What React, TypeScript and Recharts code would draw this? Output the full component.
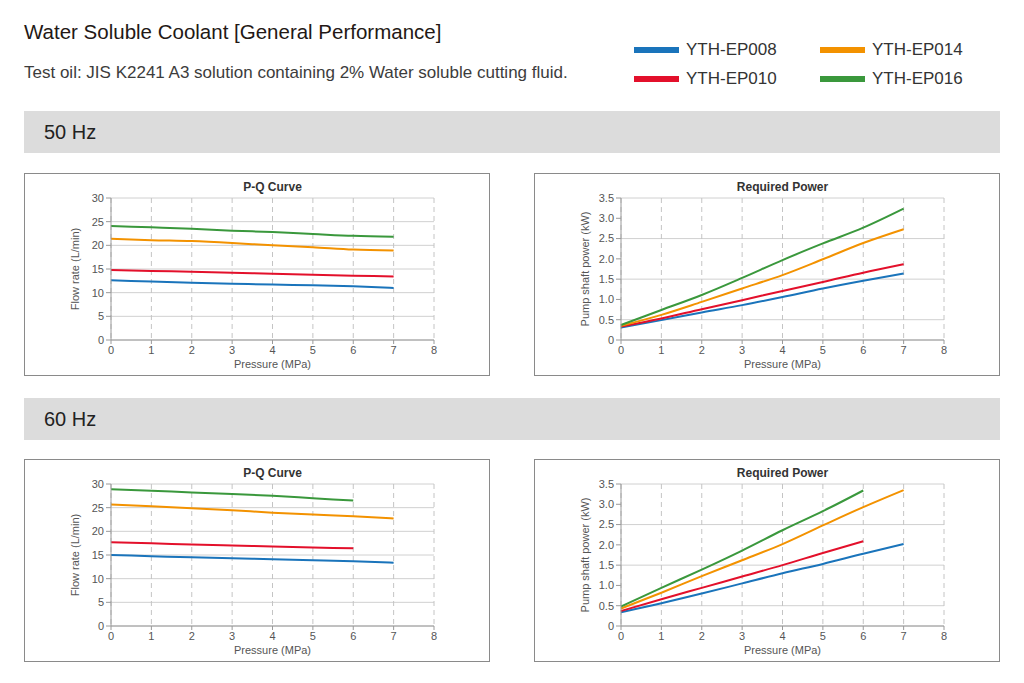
import { CartesianGrid, Line, LineChart, XAxis, YAxis } from "recharts";

const PRESSURE = [0, 1, 2, 3, 4, 5, 6, 7];
const PRESSURE_TICKS = [0, 1, 2, 3, 4, 5, 6, 7, 8];
const FLOW_TICKS = [0, 5, 10, 15, 20, 25, 30];
const POWER_TICKS = [0, 0.5, 1, 1.5, 2, 2.5, 3, 3.5];

const MODELS = ["YTH-EP008", "YTH-EP010", "YTH-EP014", "YTH-EP016"];
const COLORS = ["#1a74bb", "#e3102b", "#f39200", "#3a983c"];

// 50 Hz, flow rate (L/min)
const FLOW50_EP008 = [12.6, 12.35, 12.1, 11.9, 11.7, 11.55, 11.35, 11.0];
const FLOW50_EP010 = [14.8, 14.6, 14.4, 14.2, 14.0, 13.8, 13.6, 13.4];
const FLOW50_EP014 = [21.4, 21.1, 20.9, 20.5, 20.0, 19.6, 19.1, 18.9];
const FLOW50_EP016 = [24.1, 23.8, 23.5, 23.1, 22.8, 22.4, 22.0, 21.8];

// 50 Hz, shaft power (kW)
const POWER50_EP008 = [0.31, 0.49, 0.68, 0.86, 1.06, 1.27, 1.46, 1.64];
const POWER50_EP010 = [0.33, 0.53, 0.76, 0.98, 1.21, 1.43, 1.66, 1.87];
const POWER50_EP014 = [0.35, 0.62, 0.94, 1.27, 1.6, 1.99, 2.39, 2.73];
const POWER50_EP016 = [0.37, 0.74, 1.11, 1.53, 1.97, 2.38, 2.77, 3.24];

// 60 Hz, flow rate (L/min) — EP010 / EP016 stop at 6 MPa
const FLOW60_EP008 = [15.0, 14.75, 14.5, 14.3, 14.1, 13.9, 13.7, 13.35];
const FLOW60_EP010 = [17.7, 17.5, 17.2, 17.0, 16.8, 16.6, 16.4];
const FLOW60_EP014 = [25.65, 25.3, 24.9, 24.45, 23.95, 23.55, 23.2, 22.7];
const FLOW60_EP016 = [28.9, 28.6, 28.2, 27.9, 27.5, 27.0, 26.5];

// 60 Hz, shaft power (kW)
const POWER60_EP008 = [0.34, 0.56, 0.8, 1.05, 1.3, 1.53, 1.78, 2.02];
const POWER60_EP010 = [0.37, 0.66, 0.94, 1.22, 1.5, 1.8, 2.09];
const POWER60_EP014 = [0.43, 0.82, 1.23, 1.62, 2.02, 2.48, 2.93, 3.35];
const POWER60_EP016 = [0.48, 0.94, 1.39, 1.86, 2.36, 2.83, 3.34];

const KEYS = ["ep008", "ep010", "ep014", "ep016"];

function buildRows(series: number[][]) {
  return PRESSURE.map((p, i) => {
    const row: Record<string, number | null> = { p };
    KEYS.forEach((k, s) => {
      row[k] = series[s][i] ?? null;
    });
    return row;
  });
}

const FONT = '"Liberation Sans", Arial, Helvetica, sans-serif';
const AXIS_GREY = "#9a9a9a";
const TEXT_GREY = "#555";

type ChartProps = {
  left: number;
  top: number;
  title: string;
  yLabel: string;
  series: number[][];
  yTicks: number[];
  formatY: (v: number) => string;
};

function PerfChart({ left, top, title, yLabel, series, yTicks, formatY }: ChartProps) {
  const rows = buildRows(series);
  return (
    <div
      style={{
        position: "absolute",
        left,
        top,
        width: 466,
        height: 203,
        border: "1px solid #8a8a8a",
        boxSizing: "border-box",
        background: "#fff",
      }}
    >
      <div
        style={{
          position: "absolute",
          left: 86,
          width: 323,
          top: 6,
          textAlign: "center",
          fontWeight: "bold",
          fontSize: 12,
          lineHeight: "14px",
          color: "#333",
        }}
      >
        {title}
      </div>
      <LineChart
        width={464}
        height={201}
        data={rows}
        margin={{ top: 24, right: 55, left: 46, bottom: 7 }}
        style={{ fontFamily: FONT }}
      >
        <CartesianGrid horizontal vertical={false} stroke="#d0d0d0" />
        <CartesianGrid horizontal={false} vertical stroke="#c4c4c4" strokeDasharray="5 4" />
        <XAxis
          type="number"
          dataKey="p"
          domain={[0, 8]}
          ticks={PRESSURE_TICKS}
          tick={{ fontSize: 11, fill: TEXT_GREY }}
          tickLine={{ stroke: AXIS_GREY }}
          axisLine={{ stroke: AXIS_GREY }}
          tickSize={4}
          height={28}
          label={{ value: "Pressure (MPa)", position: "insideBottom", offset: 0, fontSize: 11, fill: TEXT_GREY }}
        />
        <YAxis
          type="number"
          domain={[yTicks[0], yTicks[yTicks.length - 1]]}
          ticks={yTicks}
          tickFormatter={formatY}
          tick={{ fontSize: 11, fill: TEXT_GREY }}
          tickLine={{ stroke: AXIS_GREY }}
          axisLine={{ stroke: AXIS_GREY }}
          tickSize={5}
          width={40}
          label={{
            value: yLabel,
            angle: -90,
            position: "insideLeft",
            offset: 4,
            fontSize: 11,
            fill: TEXT_GREY,
            style: { textAnchor: "middle" },
          }}
        />
        {KEYS.map((k, i) => (
          <Line
            key={k}
            type="monotone"
            dataKey={k}
            name={MODELS[i]}
            stroke={COLORS[i]}
            strokeWidth={2}
            dot={false}
            isAnimationActive={false}
          />
        ))}
      </LineChart>
    </div>
  );
}

function Band({ top, label }: { top: number; label: string }) {
  return (
    <div
      style={{
        position: "absolute",
        left: 24,
        top,
        width: 976,
        height: 42,
        background: "#dcdcdc",
        fontSize: 20,
        lineHeight: "42px",
        paddingLeft: 20,
        boxSizing: "border-box",
        color: "#222",
      }}
    >
      {label}
    </div>
  );
}

const formatFlow = (v: number) => String(v);
const formatPower = (v: number) => (v === 0 ? "0" : v.toFixed(1));

export default function App() {
  return (
    <div
      style={{
        position: "absolute",
        left: 0,
        top: 0,
        width: 1024,
        height: 683,
        background: "#fff",
        fontFamily: FONT,
        overflow: "hidden",
      }}
    >
      <div style={{ position: "absolute", left: 24, top: 21, fontSize: 20.5, lineHeight: "22px", color: "#231815" }}>
        Water Soluble Coolant [General Performance]
      </div>
      <div style={{ position: "absolute", left: 24, top: 63, fontSize: 17, lineHeight: "20px", color: "#3c3c3c" }}>
        Test oil: JIS K2241 A3 solution containing 2% Water soluble cutting fluid.
      </div>

      {MODELS.map((m, i) => (
        <div
          key={m}
          style={{
            position: "absolute",
            left: i < 2 ? 634 : 820,
            top: i % 2 === 0 ? 40 : 69,
            height: 20,
            display: "flex",
            alignItems: "center",
            fontSize: 17,
            color: "#333",
          }}
        >
          <span style={{ display: "inline-block", width: 45, height: 6, background: COLORS[i], marginRight: 7 }} />
          {m}
        </div>
      ))}

      <Band top={111} label="50 Hz" />
      <PerfChart
        left={24}
        top={173}
        title="P-Q Curve"
        yLabel="Flow rate (L/min)"
        series={[FLOW50_EP008, FLOW50_EP010, FLOW50_EP014, FLOW50_EP016]}
        yTicks={FLOW_TICKS}
        formatY={formatFlow}
      />
      <PerfChart
        left={534}
        top={173}
        title="Required Power"
        yLabel="Pump shaft power (kW)"
        series={[POWER50_EP008, POWER50_EP010, POWER50_EP014, POWER50_EP016]}
        yTicks={POWER_TICKS}
        formatY={formatPower}
      />

      <Band top={398} label="60 Hz" />
      <PerfChart
        left={24}
        top={459}
        title="P-Q Curve"
        yLabel="Flow rate (L/min)"
        series={[FLOW60_EP008, FLOW60_EP010, FLOW60_EP014, FLOW60_EP016]}
        yTicks={FLOW_TICKS}
        formatY={formatFlow}
      />
      <PerfChart
        left={534}
        top={459}
        title="Required Power"
        yLabel="Pump shaft power (kW)"
        series={[POWER60_EP008, POWER60_EP010, POWER60_EP014, POWER60_EP016]}
        yTicks={POWER_TICKS}
        formatY={formatPower}
      />
    </div>
  );
}
